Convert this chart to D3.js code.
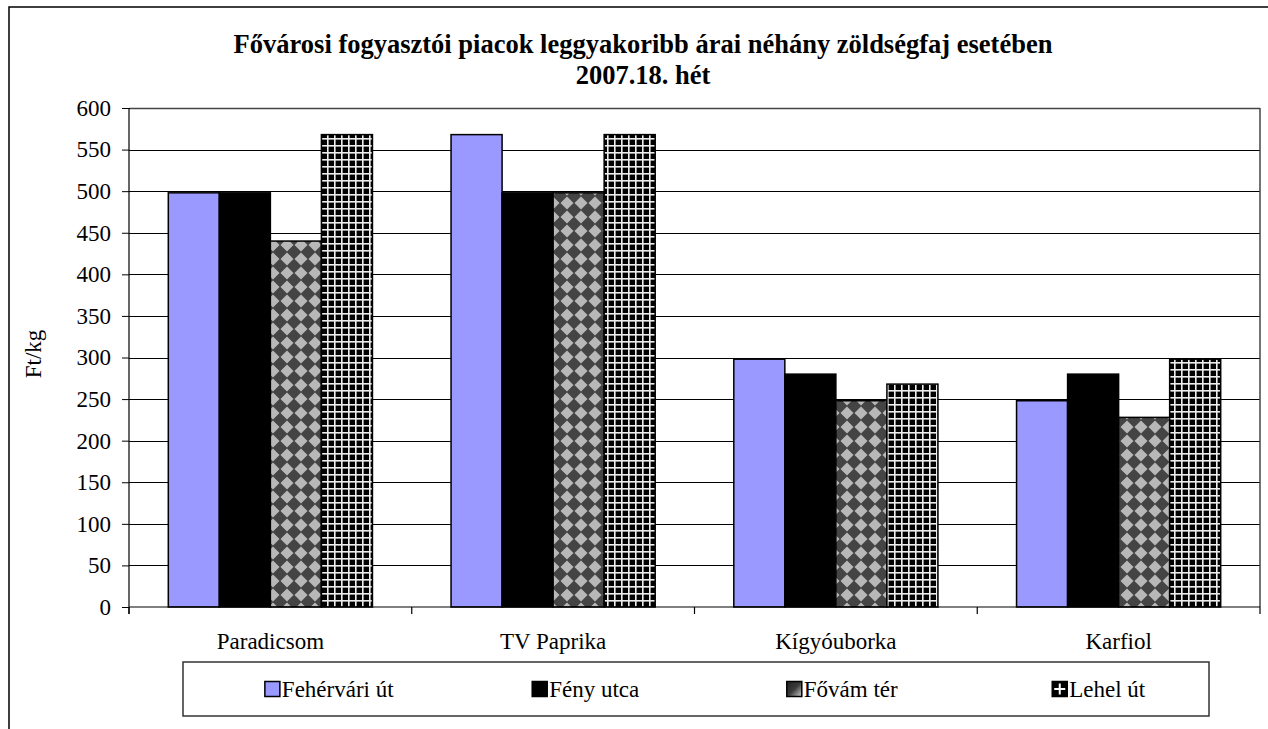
<!DOCTYPE html>
<html>
<head>
<meta charset="utf-8">
<script src="https://cdn.jsdelivr.net/npm/d3@7"></script>
<style>
  body { margin: 0; background: #fff; }
  svg { display: block; }
  svg text { font-family: "Liberation Serif", "Times New Roman", serif !important; fill: #000; }
</style>
</head>
<body>
<svg id="chart" width="1268" height="729"></svg>
<script>
// data (Ft/kg)
const categories = ["Paradicsom", "TV Paprika", "Kígyóuborka", "Karfiol"];
const seriesNames = ["Fehérvári út", "Fény utca", "Fővám tér", "Lehel út"];
const fehervari = [498, 568, 298, 248];
const feny = [498, 498, 280, 280];
const fovam = [440, 498, 248, 228];
const lehel = [568, 568, 268, 298];
const yTicks = [0, 50, 100, 150, 200, 250, 300, 350, 400, 450, 500, 550, 600];
const titleLines = ["Fővárosi fogyasztói piacok leggyakoribb árai néhány zöldségfaj esetében", "2007.18. hét"];

const seriesValues = [fehervari, feny, fovam, lehel];
const fills = ["#9999ff", "#000000", "url(#fovamPat)", "url(#lehelPat)"];
const serif = "'Liberation Serif', 'Times New Roman', serif";

let svg = d3.select("#chart");
let plot = { left: 129, top: 108, right: 1260, bottom: 607 };

let defs = svg.append("defs");

// checker / diamond pattern
let p1 = defs.append("pattern").attr("id", "fovamPat")
  .attr("patternUnits", "userSpaceOnUse").attr("width", 14).attr("height", 14);
p1.append("rect").attr("width", 14).attr("height", 14).attr("fill", "#444");
p1.append("path").attr("d", "M7 0.5L13.5 7L7 13.5L0.5 7Z").attr("fill", "#b8b8b8");

// grid pattern
let p2 = defs.append("pattern").attr("id", "lehelPat")
  .attr("patternUnits", "userSpaceOnUse").attr("width", 7).attr("height", 7);
p2.append("rect").attr("width", 7).attr("height", 7).attr("fill", "#000");
p2.append("rect").attr("x", 5).attr("width", 1.6).attr("height", 7).attr("fill", "#eee");
p2.append("rect").attr("y", 5).attr("width", 7).attr("height", 1.6).attr("fill", "#eee");

let grad = defs.append("linearGradient").attr("id", "fovamIcon")
  .attr("x1", 0).attr("y1", 0).attr("x2", 1).attr("y2", 1);
grad.append("stop").attr("offset", "0%").attr("stop-color", "#222");
grad.append("stop").attr("offset", "50%").attr("stop-color", "#3a3a3a");
grad.append("stop").attr("offset", "100%").attr("stop-color", "#d0d0d0");

// outer chart frame (runs off the page right and bottom)
svg.append("rect")
  .attr("x", 9).attr("y", 7).attr("width", 1300).attr("height", 760)
  .attr("fill", "none").attr("stroke", "#000").attr("stroke-width", 1.5);

// title
svg.append("g").selectAll("text")
  .data(titleLines)
  .enter().append("text")
    .attr("x", 643)
    .attr("y", (d, i) => 53 + i * 31)
    .attr("text-anchor", "middle")
    .attr("font-weight", "bold")
    .attr("font-size", "26.5px")
    .style("font-family", serif)
    .text(d => d);

let x0 = d3.scaleBand().domain(categories).range([plot.left, plot.right]);
let x1 = d3.scaleBand().domain(seriesNames).range([0, x0.bandwidth()]).paddingOuter(0.77);
let y = d3.scaleLinear().domain([0, 600]).range([plot.bottom, plot.top]);

// gridlines
svg.append("g").selectAll("line")
  .data(yTicks.filter(d => d > 0))
  .enter().append("line")
    .attr("x1", plot.left).attr("x2", plot.right)
    .attr("y1", d => Math.round(y(d)) + 0.5).attr("y2", d => Math.round(y(d)) + 0.5)
    .attr("stroke", d => d === 600 ? "#444" : "#000")
    .attr("stroke-width", d => d === 600 ? 1.5 : 1);

// right edge of plot area
svg.append("line")
  .attr("x1", plot.right).attr("x2", plot.right)
  .attr("y1", plot.top).attr("y2", plot.bottom)
  .attr("stroke", "#444").attr("stroke-width", 1.5);

// bars
let rows = [];
categories.forEach((c, i) => {
  seriesNames.forEach((s, j) => {
    rows.push({ category: c, series: s, value: seriesValues[j][i], k: j });
  });
});

svg.append("g").selectAll("rect")
  .data(rows)
  .enter().append("rect")
    .attr("x", d => x0(d.category) + x1(d.series))
    .attr("y", d => y(d.value))
    .attr("width", x1.bandwidth())
    .attr("height", d => y(0) - y(d.value))
    .attr("fill", d => fills[d.k])
    .attr("stroke", "#000")
    .attr("stroke-width", 1.5);

// y axis
let yAxis = svg.append("g")
  .attr("transform", `translate(${plot.left},0)`)
  .call(d3.axisLeft(y).tickValues(yTicks).tickSize(7).tickSizeOuter(0).tickPadding(11));
yAxis.attr("font-family", null).attr("font-size", null);
yAxis.select(".domain").remove();
yAxis.selectAll("line").attr("stroke", "#000");
yAxis.selectAll("text").attr("font-size", "23px").style("font-family", serif);
svg.append("line")
  .attr("x1", plot.left).attr("x2", plot.left)
  .attr("y1", plot.top).attr("y2", plot.bottom + 7)
  .attr("stroke", "#000").attr("stroke-width", 1.2);

// x axis
let xAxis = svg.append("g")
  .attr("transform", `translate(0,${plot.bottom})`)
  .call(d3.axisBottom(x0).tickSize(0).tickPadding(26));
xAxis.attr("font-family", null).attr("font-size", null);
xAxis.select(".domain").remove();
xAxis.selectAll("text").attr("font-size", "23px").style("font-family", serif);
svg.append("line")
  .attr("x1", plot.left).attr("x2", plot.right)
  .attr("y1", plot.bottom).attr("y2", plot.bottom)
  .attr("stroke", "#000").attr("stroke-width", 1.2);
let boundaries = categories.map(c => x0(c)).concat([plot.right]);
svg.append("g").selectAll("line")
  .data(boundaries)
  .enter().append("line")
    .attr("x1", d => d).attr("x2", d => d)
    .attr("y1", plot.bottom).attr("y2", plot.bottom + 7)
    .attr("stroke", "#000").attr("stroke-width", 1.2);

// y axis title
svg.append("text")
  .attr("transform", "translate(41,354) rotate(-90)")
  .attr("text-anchor", "middle")
  .attr("font-size", "23px")
  .style("font-family", serif)
  .text("Ft/kg");

// legend
let legendBox = { x: 183, y: 662, w: 1026, h: 54 };
svg.append("rect")
  .attr("x", legendBox.x).attr("y", legendBox.y)
  .attr("width", legendBox.w).attr("height", legendBox.h)
  .attr("fill", "#fff").attr("stroke", "#333").attr("stroke-width", 1.5);

let legendX = d3.scaleBand().domain(seriesNames).range([legendBox.x + 18, legendBox.x + legendBox.w + 18]);
let box = 15;

seriesNames.forEach((s, i) => {
  let item = svg.append("g");
  let label = item.append("text")
    .attr("y", 689)
    .attr("dy", "0.35em")
    .attr("font-size", "23px")
    .style("font-family", serif)
    .text(s);
  let tw = label.node().getComputedTextLength();
  let total = box + 2 + tw;
  let start = legendX(s) + legendX.bandwidth() / 2 - total / 2;
  label.attr("x", start + box + 2);

  let icon = item.append("g").attr("transform", `translate(${start},${689 - box / 2})`);
  if (i === 2) {
    icon.append("rect").attr("width", box).attr("height", box)
      .attr("fill", "url(#fovamIcon)").attr("stroke", "#000").attr("stroke-width", 1.5);
  } else if (i === 3) {
    icon.append("rect").attr("width", box).attr("height", box)
      .attr("fill", "#000").attr("stroke", "#000").attr("stroke-width", 1.5);
    icon.append("line").attr("x1", box / 2).attr("x2", box / 2).attr("y1", 2).attr("y2", box - 2)
      .attr("stroke", "#fff").attr("stroke-width", 2);
    icon.append("line").attr("y1", box / 2).attr("y2", box / 2).attr("x1", 2).attr("x2", box - 2)
      .attr("stroke", "#fff").attr("stroke-width", 2);
  } else {
    icon.append("rect").attr("width", box).attr("height", box)
      .attr("fill", fills[i]).attr("stroke", "#000").attr("stroke-width", 1.5);
  }
});
</script>
</body>
</html>
